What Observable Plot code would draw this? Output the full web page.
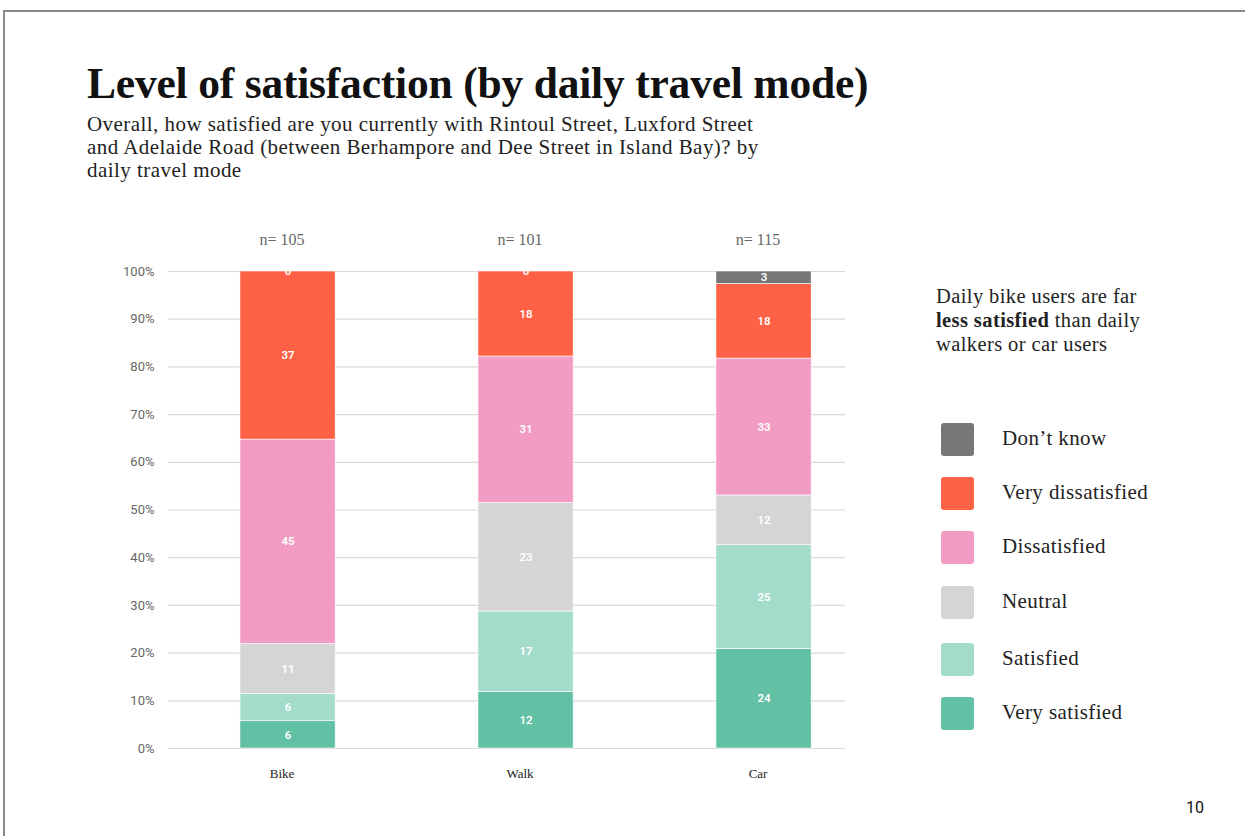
<!DOCTYPE html>
<html>
<head>
<meta charset="utf-8">
<script src="https://cdn.jsdelivr.net/npm/d3@7"></script>
<script src="https://cdn.jsdelivr.net/npm/@observablehq/plot@0.6"></script>
<style>
  html, body { margin: 0; padding: 0; background: #fff; }
  body { width: 1245px; height: 836px; position: relative; overflow: hidden; font-family: "Liberation Serif", serif; }
  .frame { position: absolute; left: 3px; top: 10px; width: 1250px; height: 840px; border-top: 2px solid #8a8a8a; border-left: 2px solid #8a8a8a; }
  .title { position: absolute; left: 87px; top: 58px; font-size: 43.5px; font-weight: bold; color: #111; white-space: nowrap; letter-spacing: -0.2px; }
  .subtitle { position: absolute; left: 87px; top: 113px; font-size: 21px; line-height: 23px; letter-spacing: 0.45px; color: #222; white-space: nowrap; }
  .note { position: absolute; left: 936px; top: 284px; font-size: 20.5px; line-height: 24px; letter-spacing: 0.4px; color: #222; white-space: nowrap; }
  .legend { position: absolute; left: 941px; top: 423px; }
  .legend .item { position: absolute; left: 0; height: 33px; white-space: nowrap; }
  .legend .sw { position: absolute; left: 0; top: 0; width: 33px; height: 33px; border-radius: 3px; }
  .legend .lab { position: absolute; left: 61px; top: 3px; font-size: 21px; letter-spacing: 0.4px; color: #222; }
  .page { position: absolute; left: 1186px; top: 798px; font-family: "Roboto", sans-serif; font-size: 16px; color: #111; }
  #chart { position: absolute; left: 0; top: 220px; }
</style>
</head>
<body>
<div class="frame"></div>
<div class="title">Level of satisfaction (by daily travel mode)</div>
<div class="subtitle">Overall, how satisfied are you currently with Rintoul Street, Luxford Street<br>and Adelaide Road (between Berhampore and Dee Street in Island Bay)? by<br>daily travel mode</div>
<div class="note">Daily bike users are far<br><b>less satisfied</b> than daily<br>walkers or car users</div>
<div class="legend" id="legend"></div>
<div class="page">10</div>
<div id="chart"></div>
<script>
const modes = ["Bike", "Walk", "Car"];
const sampleSizes = [105, 101, 115];
const levels = ["Very satisfied", "Satisfied", "Neutral", "Dissatisfied", "Very dissatisfied", "Don\u2019t know"];
const colors = ["#62c0a4", "#a3dccb", "#d5d5d5", "#f29bc3", "#fe6145", "#777777"];
const bikeCounts = [6, 6, 11, 45, 37, 0];
const walkCounts = [12, 17, 23, 31, 18, 0];
const carCounts = [24, 25, 12, 33, 18, 3];
const yTicks = [0, 0.1, 0.2, 0.3, 0.4, 0.5, 0.6, 0.7, 0.8, 0.9, 1];

const countsByMode = [bikeCounts, walkCounts, carCounts];
const data = [];
modes.forEach((m, i) => {
  levels.forEach((l, j) => {
    data.push({mode: m, level: l, count: countsByMode[i][j]});
  });
});
const nData = modes.map((m, i) => ({mode: m, label: "n= " + sampleSizes[i]}));

const stackOpts = {x: "mode", y: "count", z: "level", order: levels, offset: "normalize"};

const chart = Plot.plot({
  width: 850,
  height: 580,
  marginLeft: 168,
  marginRight: 5,
  marginTop: 51,
  marginBottom: 52,
  style: {fontFamily: "Roboto, sans-serif", fontSize: "12px", background: "transparent"},
  x: {domain: modes, paddingInner: 0.6, paddingOuter: 0.2223, align: 0.68, round: false, label: null},
  y: {domain: [0, 1], label: null},
  color: {domain: levels, range: colors},
  marks: [
    Plot.ruleY(yTicks, {stroke: "#d9d9d9", strokeWidth: 1.2}),
    Plot.axisY({ticks: yTicks, tickFormat: d3.format(".0%"), tickSize: 0, tickPadding: 14, fill: "#666", fontSize: 13, label: null}),
    Plot.axisX({tickSize: 0, tickPadding: 20, dx: -6, fontFamily: "Liberation Serif, serif", fontSize: 13, fill: "#222", label: null}),
    Plot.barY(data, Plot.stackY({...stackOpts, fill: "level", stroke: "white", strokeWidth: 0.6})),
    Plot.text(data, Plot.stackY({...stackOpts, text: "count", fill: "white", fontWeight: 600, fontSize: 11.5, fontFamily: "Roboto, sans-serif"})),
    Plot.text(nData, {x: "mode", y: () => 1, text: "label", dy: -32, dx: -6, fill: "#666", fontSize: 16, fontFamily: "Liberation Serif, serif"})
  ]
});
document.getElementById("chart").appendChild(chart);

const legend = document.getElementById("legend");
const order = levels.slice().reverse();
const cols = colors.slice().reverse();
order.forEach((l, i) => {
  const item = document.createElement("div");
  item.className = "item";
  item.style.top = [0, 54, 108, 163, 220, 274][i] + "px";
  const sw = document.createElement("div");
  sw.className = "sw";
  sw.style.background = cols[i];
  const lab = document.createElement("div");
  lab.className = "lab";
  lab.textContent = l;
  item.appendChild(sw);
  item.appendChild(lab);
  legend.appendChild(item);
});
</script>
</body>
</html>
